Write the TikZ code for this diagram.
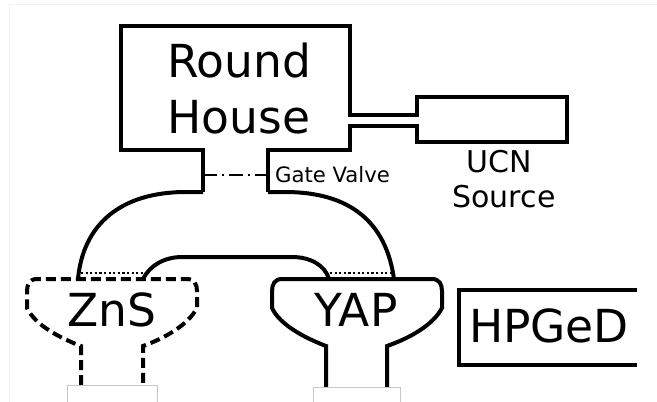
\documentclass[tikz,border=0pt]{standalone}
\usepackage{fontspec}
\setmainfont{DejaVu Sans}
\tikzset{
  wall/.style={line width=4pt,line join=miter,black},
  dashwall/.style={wall,dash pattern=on 10pt off 5pt},
  gap/.style={line width=2.6pt,dash pattern=on 2.2pt off 2.4pt,black},
  valve/.style={line width=1.6pt,dash pattern=on 14pt off 5pt on 2pt off 5pt,black},
  faint/.style={line width=0.8pt,black!22},
  border/.style={line width=1pt,black!5},
  big/.style={font=\fontsize{45.5}{46}\selectfont,anchor=base,inner sep=0pt},
  mid/.style={font=\fontsize{30}{30}\selectfont,anchor=base,inner sep=0pt},
  small/.style={font=\fontsize{21.2}{21}\selectfont,anchor=base,inner sep=0pt}
}
\begin{document}
\begin{tikzpicture}[x=1pt,y=-1pt]
\useasboundingbox (0,0) rectangle (657,402);
\fill[white] (0,0) rectangle (657,402);
\draw[border] (9.5,402) -- (9.5,4.5) -- (657,4.5);
% Round House with neck and pipe
\draw[wall] (203,192) -- (203,150) -- (121,150) -- (121,26) -- (350,26) -- (350,115) -- (417,115)
  -- (417,97) -- (567,97) -- (567,142) -- (417,142) -- (417,126) -- (350,126) -- (350,150) -- (268,150) -- (268,192);
% Guides
\draw[wall] (203,192) -- (186,192) .. controls (120,192) and (83,225) .. (78,279);
\draw[wall] (268,192) -- (285,192) .. controls (350,192) and (386,222) .. (394,279);
\draw[wall] (143,279) .. controls (150,265) and (165,257) .. (182,257) -- (292,257) .. controls (310,257) and (325,265) .. (329,279);
% Thin foils
\coordinate (d1) at (81,273); \coordinate (d2) at (143,273);
\coordinate (d3) at (330,273); \coordinate (d4) at (391,273);
\draw[gap] (d1) -- (d2);
\draw[gap] (d3) -- (d4);
% Gate valve
\coordinate (v1) at (203,175); \coordinate (v2) at (268,175);
\draw[valve] (v1) -- (v2);
% ZnS
\draw[dashwall] (81,385) -- (81,346) .. controls (60,338) and (35,325) .. (27,308) -- (27,291)
  .. controls (27,284) and (30,279) .. (37,279) -- (187,279) .. controls (194,279) and (197,284) .. (197,291)
  -- (197,308) .. controls (188,325) and (165,338) .. (143,346) -- (143,385);
% YAP
\draw[wall] (326,387) -- (326,346) .. controls (305,338) and (280,325) .. (272,308) -- (272,291)
  .. controls (272,284) and (275,279) .. (282,279) -- (432,279) .. controls (439,279) and (442,284) .. (442,291)
  -- (442,308) .. controls (433,325) and (410,338) .. (387,346) -- (387,387);
% HPGeD
\draw[wall] (637,290) -- (459,290) -- (459,365) -- (637,365);
% faint outlines
\draw[faint] (67,402) -- (67,385.5) -- (157,385.5) -- (157,402);
\draw[faint] (313,402) -- (313,387) -- (400,387) -- (400,402);
% Labels
\node[big] (round) at (239,77) {Round};
\node[big] (house) at (239,133) {House};
\node[small] (gate) at (332.5,182) {Gate Valve};
\node[mid] (ucn) at (499.5,172) {UCN};
\node[mid] (source) at (504,207) {Source};
\node[big] (zns) at (112,326) {ZnS};
\node[big] (yap) at (356,326) {YAP};
\node[big] (hpged) at (549,342) {HPGeD};
\end{tikzpicture}
\end{document}
